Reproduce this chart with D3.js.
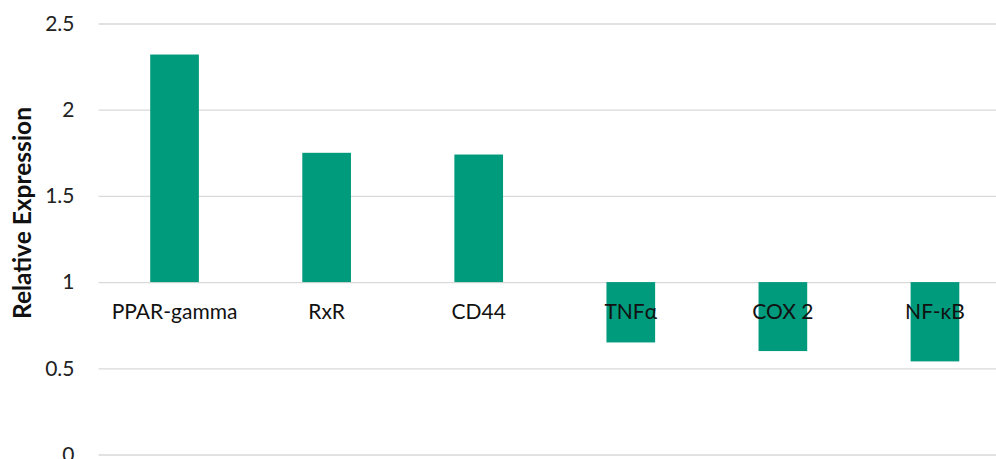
<!DOCTYPE html>
<html>
<head>
<meta charset="utf-8">
<script src="https://cdn.jsdelivr.net/npm/d3@7"></script>
<style>
  body { margin: 0; background: #fff; }
  text { font-family: Lato, "Open Sans", sans-serif; }
</style>
</head>
<body>
<div id="chart"></div>
<script>
// genes and their relative expression (baseline = 1)
const genes = ["PPAR-gamma", "RxR", "CD44", "TNFα", "COX 2", "NF-κB"];
const expression = [2.32, 1.75, 1.74, 0.65, 0.60, 0.54];
const yTicks = [0, 0.5, 1, 1.5, 2, 2.5];

const w = 996;
const h = 459;

const svg = d3.select("#chart")
    .append("svg")
    .attr("width", w)
    .attr("height", h);

// band scale runs past the right edge, like the original (gridlines get cut off)
const x = d3.scaleBand()
    .domain(genes)
    .range([98.5, 1011])
    .paddingInner(0.68)
    .paddingOuter(0.34);

const y = d3.scaleLinear()
    .domain([0, 2.5])
    .range([454.5, 23.5]);

// gridlines + tick labels
const yAxis = d3.axisLeft(y)
    .tickValues(yTicks)
    .tickSize(-(w - 98.5))
    .tickPadding(24)
    .tickFormat(d3.format(""));

svg.append("g")
    .attr("transform", "translate(98.5,0)")
    .call(yAxis)
    .call(g => g.select(".domain").remove())
    .call(g => g.selectAll(".tick line").attr("stroke", "#d9d9d9").attr("stroke-width", 1.3))
    .call(g => g.selectAll(".tick text")
        .attr("fill", "#222")
        .attr("font-size", 21)
        .attr("font-family", "Lato, sans-serif"));

// bars start at 1
svg.selectAll("rect.bar")
    .data(expression)
    .enter()
    .append("rect")
    .attr("class", "bar")
    .attr("x", (d, i) => x(genes[i]))
    .attr("width", x.bandwidth())
    .attr("y", d => y(Math.max(d, 1)))
    .attr("height", d => Math.abs(y(d) - y(1)))
    .attr("fill", "#009a7c");

// category labels sit just under the y=1 line
svg.selectAll("text.cat")
    .data(genes)
    .enter()
    .append("text")
    .attr("class", "cat")
    .attr("x", d => x(d) + x.bandwidth() / 2)
    .attr("y", y(1) + 37)
    .attr("text-anchor", "middle")
    .attr("font-size", 21)
    .attr("fill", "#111")
    .text(d => d);

// y axis title
svg.append("text")
    .attr("transform", "translate(31,213) rotate(-90)")
    .attr("text-anchor", "middle")
    .attr("font-size", 24.5)
    .attr("font-weight", "bold")
    .attr("fill", "#111")
    .text("Relative Expression");
</script>
</body>
</html>
